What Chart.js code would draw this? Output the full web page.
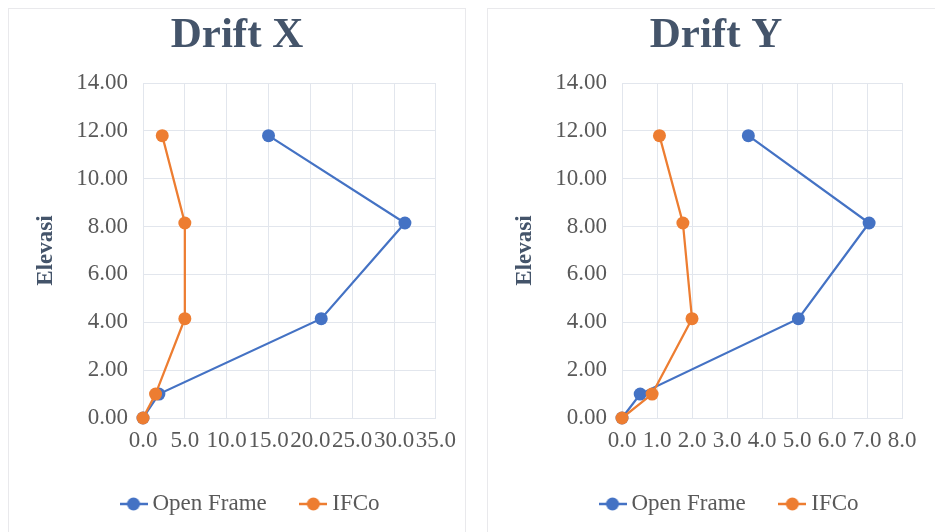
<!DOCTYPE html>
<html>
<head>
<meta charset="utf-8">
<script src="https://cdn.jsdelivr.net/npm/chart.js@4/dist/chart.umd.min.js"></script>
<style>
  html, body { margin: 0; padding: 0; background: #ffffff; width: 935px; height: 532px; overflow: hidden; position: relative; }
  .panel { position: absolute; top: 8px; height: 600px; border: 1px solid #e9e9ec; box-sizing: border-box; background: #fff; }
  .wrap { position: absolute; top: 9px; width: 456px; height: 523px; }
</style>
</head>
<body>
<div class="panel" style="left:8px;width:458px;"></div>
<div class="panel" style="left:487px;width:500px;"></div>
<div class="wrap" style="left:9px;"><canvas id="cx"></canvas></div>
<div class="wrap" style="left:488px;"><canvas id="cy"></canvas></div>
<script>
// ---- data ----
const elevasi = [0, 1.0, 4.15, 8.15, 11.8];
const seriesNames = ['Open Frame', 'IFCo'];
const driftXOpenFrame = [0, 1.9, 21.3, 31.3, 15.0];
const driftXIFCo      = [0, 1.5, 5.0, 5.0, 2.3];
const driftYOpenFrame = [0, 0.52, 5.04, 7.06, 3.61];
const driftYIFCo      = [0, 0.86, 2.0, 1.74, 1.07];
const titles = ['Drift X', 'Drift Y'];
const yAxisTitle = 'Elevasi';
const yTicks = [0, 2, 4, 6, 8, 10, 12, 14];
const xTicksX = [0, 5, 10, 15, 20, 25, 30, 35];
const xTicksY = [0, 1, 2, 3, 4, 5, 6, 7, 8];

// ---- style ----
const BLUE = '#4472C4', ORANGE = '#ED7D31';
const GRID = '#e2e6ed';
const TXT = '#595959';
const TITLE_C = '#44546A';
const FONT = "'Liberation Serif', 'Times New Roman', serif";

function legendIcon(color) {
  const c = document.createElement('canvas');
  c.width = 28; c.height = 14;
  const g = c.getContext('2d');
  g.strokeStyle = color; g.lineWidth = 2.5;
  g.beginPath(); g.moveTo(0, 7); g.lineTo(28, 7); g.stroke();
  g.fillStyle = color;
  g.beginPath(); g.arc(14, 7, 6.5, 0, Math.PI * 2); g.fill();
  return c;
}
const icons = [legendIcon(BLUE), legendIcon(ORANGE)];
const LEG_PAD = 39;

function pts(xs) { return elevasi.map((e, i) => ({ x: xs[i], y: e })); }

function makeChart(id, title, openVals, ifcoVals, xTicks, xDecimals, rightPad) {
  const ds = (label, vals, color, order) => ({
    label, data: pts(vals), showLine: true,
    borderColor: color, backgroundColor: color, borderWidth: 2.25,
    pointRadius: 6.5, pointHoverRadius: 6.5, pointBorderWidth: 0,
    pointBackgroundColor: color, clip: false, order
  });
  return new Chart(document.getElementById(id), {
    type: 'scatter',
    data: { datasets: [ds(seriesNames[0], openVals, BLUE, 1), ds(seriesNames[1], ifcoVals, ORANGE, 0)] },
    options: {
      responsive: true, maintainAspectRatio: false, animation: false,
      layout: { padding: { left: 0, right: 0, top: 0, bottom: 6.5 } },
      plugins: {
        title: { display: true, text: title, color: TITLE_C,
          font: { family: FONT, size: 43, weight: 'bold', lineHeight: 1 },
          padding: { top: 5, bottom: 26 } },
        legend: { display: true, position: 'bottom', align: 'start',
          labels: {
            usePointStyle: true, pointStyleWidth: 15, padding: LEG_PAD,
            color: TXT, font: { family: FONT, size: 23 },
            generateLabels: () => seriesNames.map((n, i) => ({
              text: n, pointStyle: icons[i], fillStyle: i ? ORANGE : BLUE,
              strokeStyle: i ? ORANGE : BLUE, lineWidth: 0, hidden: false,
              datasetIndex: i, fontColor: TXT
            }))
          } },
        tooltip: { enabled: false }
      },
      scales: {
        x: { type: 'linear', min: xTicks[0], max: xTicks[xTicks.length - 1],
          afterBuildTicks: s => { s.ticks = xTicks.map(v => ({ value: v })); },
          afterFit: s => { s.height = 35.5; },
          grid: { color: GRID, lineWidth: 1, drawTicks: false },
          border: { color: GRID, width: 1 },
          ticks: { autoSkip: false, maxRotation: 0, minRotation: 0, padding: 9,
            color: TXT, font: { family: FONT, size: 23 },
            callback: v => Number(v).toFixed(xDecimals) } },
        y: { type: 'linear', position: 'left', min: 0, max: 14,
          afterBuildTicks: s => { s.ticks = yTicks.map(v => ({ value: v })); },
          afterFit: s => { s.width = 134; },
          grid: { color: GRID, lineWidth: 1, drawTicks: false },
          border: { color: GRID, width: 1 },
          title: { display: true, text: yAxisTitle, color: TITLE_C,
            font: { family: FONT, size: 23, weight: 'bold' }, padding: { top: 23, bottom: 0 } },
          ticks: { padding: 15, color: TXT, font: { family: FONT, size: 23 },
            callback: v => Number(v).toFixed(2) } },
        pad: { type: 'linear', position: 'right', display: true,
          afterFit: s => { s.width = rightPad; },
          grid: { display: false, drawTicks: false }, border: { display: false },
          ticks: { display: false } }
      }
    },
    plugins: [{
      id: 'legendShift',
      afterLayout(chart) {
        const l = chart.legend;
        const d = (117 - LEG_PAD) - l.left;
        l.left += d; l.right += d;
      }
    }]
  });
}

makeChart('cx', titles[0], driftXOpenFrame, driftXIFCo, xTicksX, 1, 28);
makeChart('cy', titles[1], driftYOpenFrame, driftYIFCo, xTicksY, 1, 42);
</script>
</body>
</html>
